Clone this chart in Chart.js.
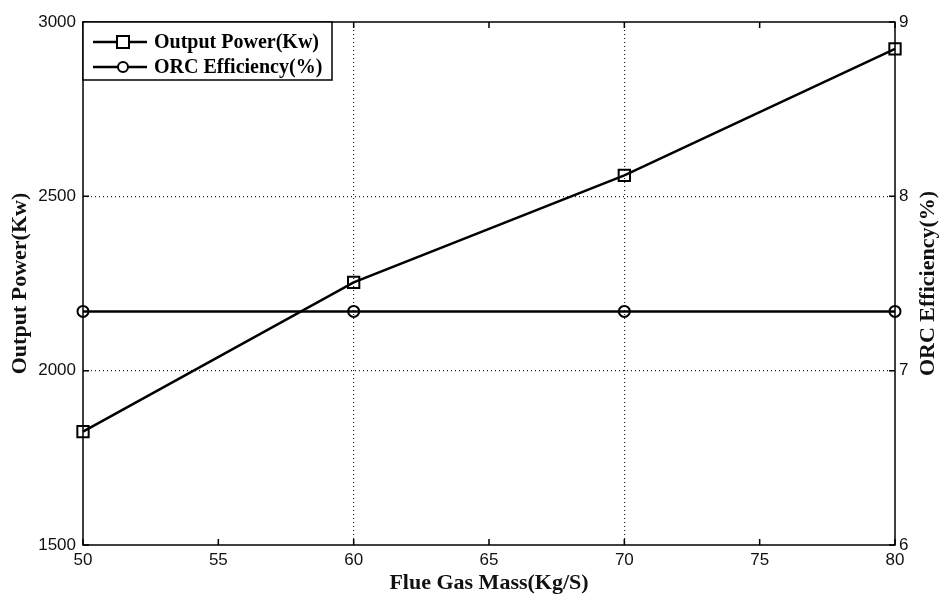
<!DOCTYPE html>
<html>
<head>
<meta charset="utf-8">
<script src="https://cdn.jsdelivr.net/npm/chart.js@4.4.1/dist/chart.umd.min.js"></script>
<style>
  html, body { margin: 0; padding: 0; background: #fff; }
  #wrap { width: 941px; height: 599px; }
</style>
</head>
<body>
<div id="wrap"><canvas id="orcChart" width="941" height="599"></canvas></div>
<script>
const flueGasMass = [50, 60, 70, 80];
const outputPower = [1825, 2253, 2560, 2923];
const orcEfficiency = [7.34, 7.34, 7.34, 7.34];

const xTicks = [50, 55, 60, 65, 70, 75, 80];
const powerTicks = [1500, 2000, 2500, 3000];
const effTicks = [6, 7, 8, 9];

const tickFont = { family: "Liberation Sans", size: 17 };
const titleFont = { family: "Liberation Serif", size: 22, weight: "bold" };
const rightTitle = "ORC Efficiency(%)";

// frame, inward tick marks, right axis title and the boxed legend (MATLAB plotyy look)
const framePlugin = {
    id: "frame",
    afterDraw(chart) {
        const { ctx, chartArea: a, scales } = chart;
        const tick = 6;
        ctx.save();
        ctx.strokeStyle = "#000";
        ctx.lineWidth = 1.5;
        ctx.strokeRect(a.left, a.top, a.right - a.left, a.bottom - a.top);

        ctx.beginPath();
        xTicks.forEach(v => {
            const x = scales.x.getPixelForValue(v);
            ctx.moveTo(x, a.bottom); ctx.lineTo(x, a.bottom - tick);
            ctx.moveTo(x, a.top); ctx.lineTo(x, a.top + tick);
        });
        powerTicks.forEach(v => {
            const y = scales.y.getPixelForValue(v);
            ctx.moveTo(a.left, y); ctx.lineTo(a.left + tick, y);
        });
        effTicks.forEach(v => {
            const y = scales.y1.getPixelForValue(v);
            ctx.moveTo(a.right, y); ctx.lineTo(a.right - tick, y);
        });
        ctx.stroke();

        // right axis title reads bottom-to-top like the left one
        ctx.save();
        ctx.translate(928, (a.top + a.bottom) / 2);
        ctx.rotate(-Math.PI / 2);
        ctx.fillStyle = "#111";
        ctx.font = "bold 22px 'Liberation Serif'";
        ctx.textAlign = "center";
        ctx.textBaseline = "middle";
        ctx.fillText(rightTitle, 0, 0);
        ctx.restore();

        // legend box
        const bx = a.left, by = a.top, bw = 249, bh = 58;
        ctx.fillStyle = "#fff";
        ctx.fillRect(bx, by, bw, bh);
        ctx.lineWidth = 1.5;
        ctx.strokeRect(bx, by, bw, bh);

        const rows = [by + 20, by + 45];
        chart.data.datasets.forEach((ds, i) => {
            const y = rows[i];
            ctx.lineWidth = 2.5;
            ctx.beginPath();
            ctx.moveTo(bx + 10, y); ctx.lineTo(bx + 64, y);
            ctx.stroke();
            const cx = bx + 40;
            ctx.fillStyle = "#fff";
            ctx.lineWidth = 2;
            if (ds.pointStyle === "rect") {
                ctx.fillRect(cx - 6, y - 6, 12, 12);
                ctx.strokeRect(cx - 6, y - 6, 12, 12);
            } else {
                ctx.beginPath();
                ctx.arc(cx, y, 5, 0, Math.PI * 2);
                ctx.fill();
                ctx.stroke();
            }
            ctx.fillStyle = "#000";
            ctx.font = "bold 20px 'Liberation Serif'";
            ctx.textBaseline = "middle";
            ctx.textAlign = "left";
            ctx.fillText(ds.label, bx + 71, y + 1);
        });
        ctx.restore();
    }
};

const gridColor = "#222";
const plain = v => String(v);

new Chart(document.getElementById("orcChart"), {
    type: "line",
    data: {
        datasets: [
            {
                label: "Output Power(Kw)",
                data: flueGasMass.map((x, i) => ({ x, y: outputPower[i] })),
                yAxisID: "y",
                borderColor: "#000",
                borderWidth: 2.5,
                pointStyle: "rect",
                pointRadius: 8,
                pointBorderWidth: 2,
                pointBorderColor: "#000",
                pointBackgroundColor: "rgba(255,255,255,0)",
                tension: 0
            },
            {
                label: "ORC Efficiency(%)",
                data: flueGasMass.map((x, i) => ({ x, y: orcEfficiency[i] })),
                yAxisID: "y1",
                borderColor: "#000",
                borderWidth: 2.5,
                pointStyle: "circle",
                pointRadius: 5.5,
                pointBorderWidth: 2,
                pointBorderColor: "#000",
                pointBackgroundColor: "rgba(255,255,255,0)",
                tension: 0
            }
        ]
    },
    options: {
        responsive: false,
        animation: false,
        clip: false,
        layout: { padding: { top: 22, left: 0, right: 0, bottom: 0 } },
        plugins: {
            legend: { display: false },
            tooltip: { enabled: false }
        },
        scales: {
            x: {
                type: "linear",
                min: 50,
                max: 80,
                afterBuildTicks: s => { s.ticks = xTicks.map(v => ({ value: v })); },
                afterFit: s => { s.height = 54; },
                ticks: { color: "#111", font: tickFont, padding: 5, maxRotation: 0, callback: plain },
                grid: {
                    drawTicks: false,
                    lineWidth: 1.2,
                    color: c => (c.tick && c.tick.value % 10 === 0 && c.tick.value > 50 && c.tick.value < 80) ? gridColor : "rgba(0,0,0,0)"
                },
                border: { display: false, dash: [1, 3] },
                title: { display: true, text: "Flue Gas Mass(Kg/S)", font: titleFont, color: "#111", padding: { top: 0, bottom: 2 } }
            },
            y: {
                type: "linear",
                position: "left",
                min: 1500,
                max: 3000,
                afterBuildTicks: s => { s.ticks = powerTicks.map(v => ({ value: v })); },
                afterFit: s => { s.width = 83; },
                ticks: { color: "#111", font: tickFont, padding: 7, callback: plain },
                grid: {
                    drawTicks: false,
                    lineWidth: 1.2,
                    color: c => (c.tick && c.tick.value > 1500 && c.tick.value < 3000) ? gridColor : "rgba(0,0,0,0)"
                },
                border: { display: false, dash: [1, 3] },
                title: { display: true, text: "Output Power(Kw)", font: titleFont, color: "#111", padding: { top: 7, bottom: 0 } }
            },
            y1: {
                type: "linear",
                position: "right",
                min: 6,
                max: 9,
                afterBuildTicks: s => { s.ticks = effTicks.map(v => ({ value: v })); },
                afterFit: s => { s.width = 46; },
                ticks: { color: "#111", font: tickFont, padding: 4, callback: plain },
                grid: { display: false, drawTicks: false },
                border: { display: false }
            }
        }
    },
    plugins: [framePlugin]
});
</script>
</body>
</html>
